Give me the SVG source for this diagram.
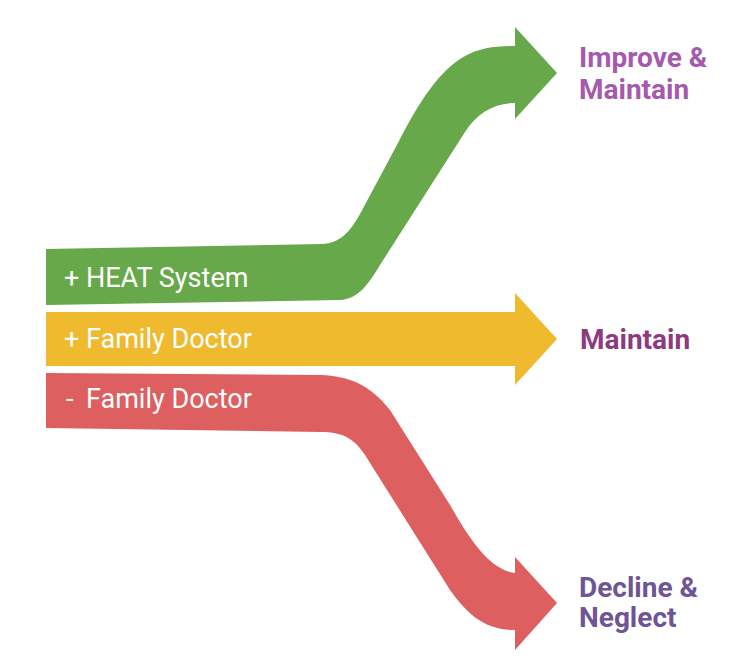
<svg xmlns="http://www.w3.org/2000/svg" width="750" height="664" viewBox="0 0 750 664">
<style>
.lbl{font-family:Roboto,"Liberation Sans",sans-serif;font-size:27px;fill:#ffffff}
.out{font-family:Roboto,"Liberation Sans",sans-serif;font-size:28px;font-weight:bold}
</style>
<rect width="750" height="664" fill="#ffffff"/>
<g id="connectors">
<path id="green-arrow" fill="#66A84A" d="M46,249 L322,244 C340,243 350,232 360,214 L398,143 C420,100 440,70 465,56 C480,48 495,46 515,46 L515,27 L557,73 L515,119 L515,103 C495,103 478,112 465,132 L380,265 C368,285 358,299 340,300 L46,305 Z"/>
<path id="yellow-arrow" fill="#F0BA2E" d="M46,312 L515,312 L515,293 L557,339 L515,385 L515,366 L46,366 Z"/>
<path id="red-arrow" fill="#DD5F60" d="M46,373 L320,375 C350,376 370,385 390,410 L450,505 C470,540 490,570 515,573 L515,557 L557,603 L515,650 L515,630 C485,630 468,615 450,590 L365,455 C355,440 345,432 320,432 L46,428 Z"/>
</g>
<g id="node-heat"><text class="lbl" x="64" y="287">+ HEAT System</text></g>
<g id="node-fd-plus"><text class="lbl" x="64" y="348">+ Family Doctor</text></g>
<g id="node-fd-minus"><text class="lbl" x="66" y="408">-</text><text class="lbl" x="86" y="408">Family Doctor</text></g>
<g id="node-improve"><text class="out" fill="#A55AAE" x="579" y="67">Improve &amp;</text><text class="out" fill="#A55AAE" x="579" y="99">Maintain</text></g>
<g id="node-maintain"><text class="out" fill="#8E3A80" x="580" y="349">Maintain</text></g>
<g id="node-decline"><text class="out" fill="#6E5595" x="579" y="597">Decline &amp;</text><text class="out" fill="#6E5595" x="579" y="627">Neglect</text></g>
</svg>
